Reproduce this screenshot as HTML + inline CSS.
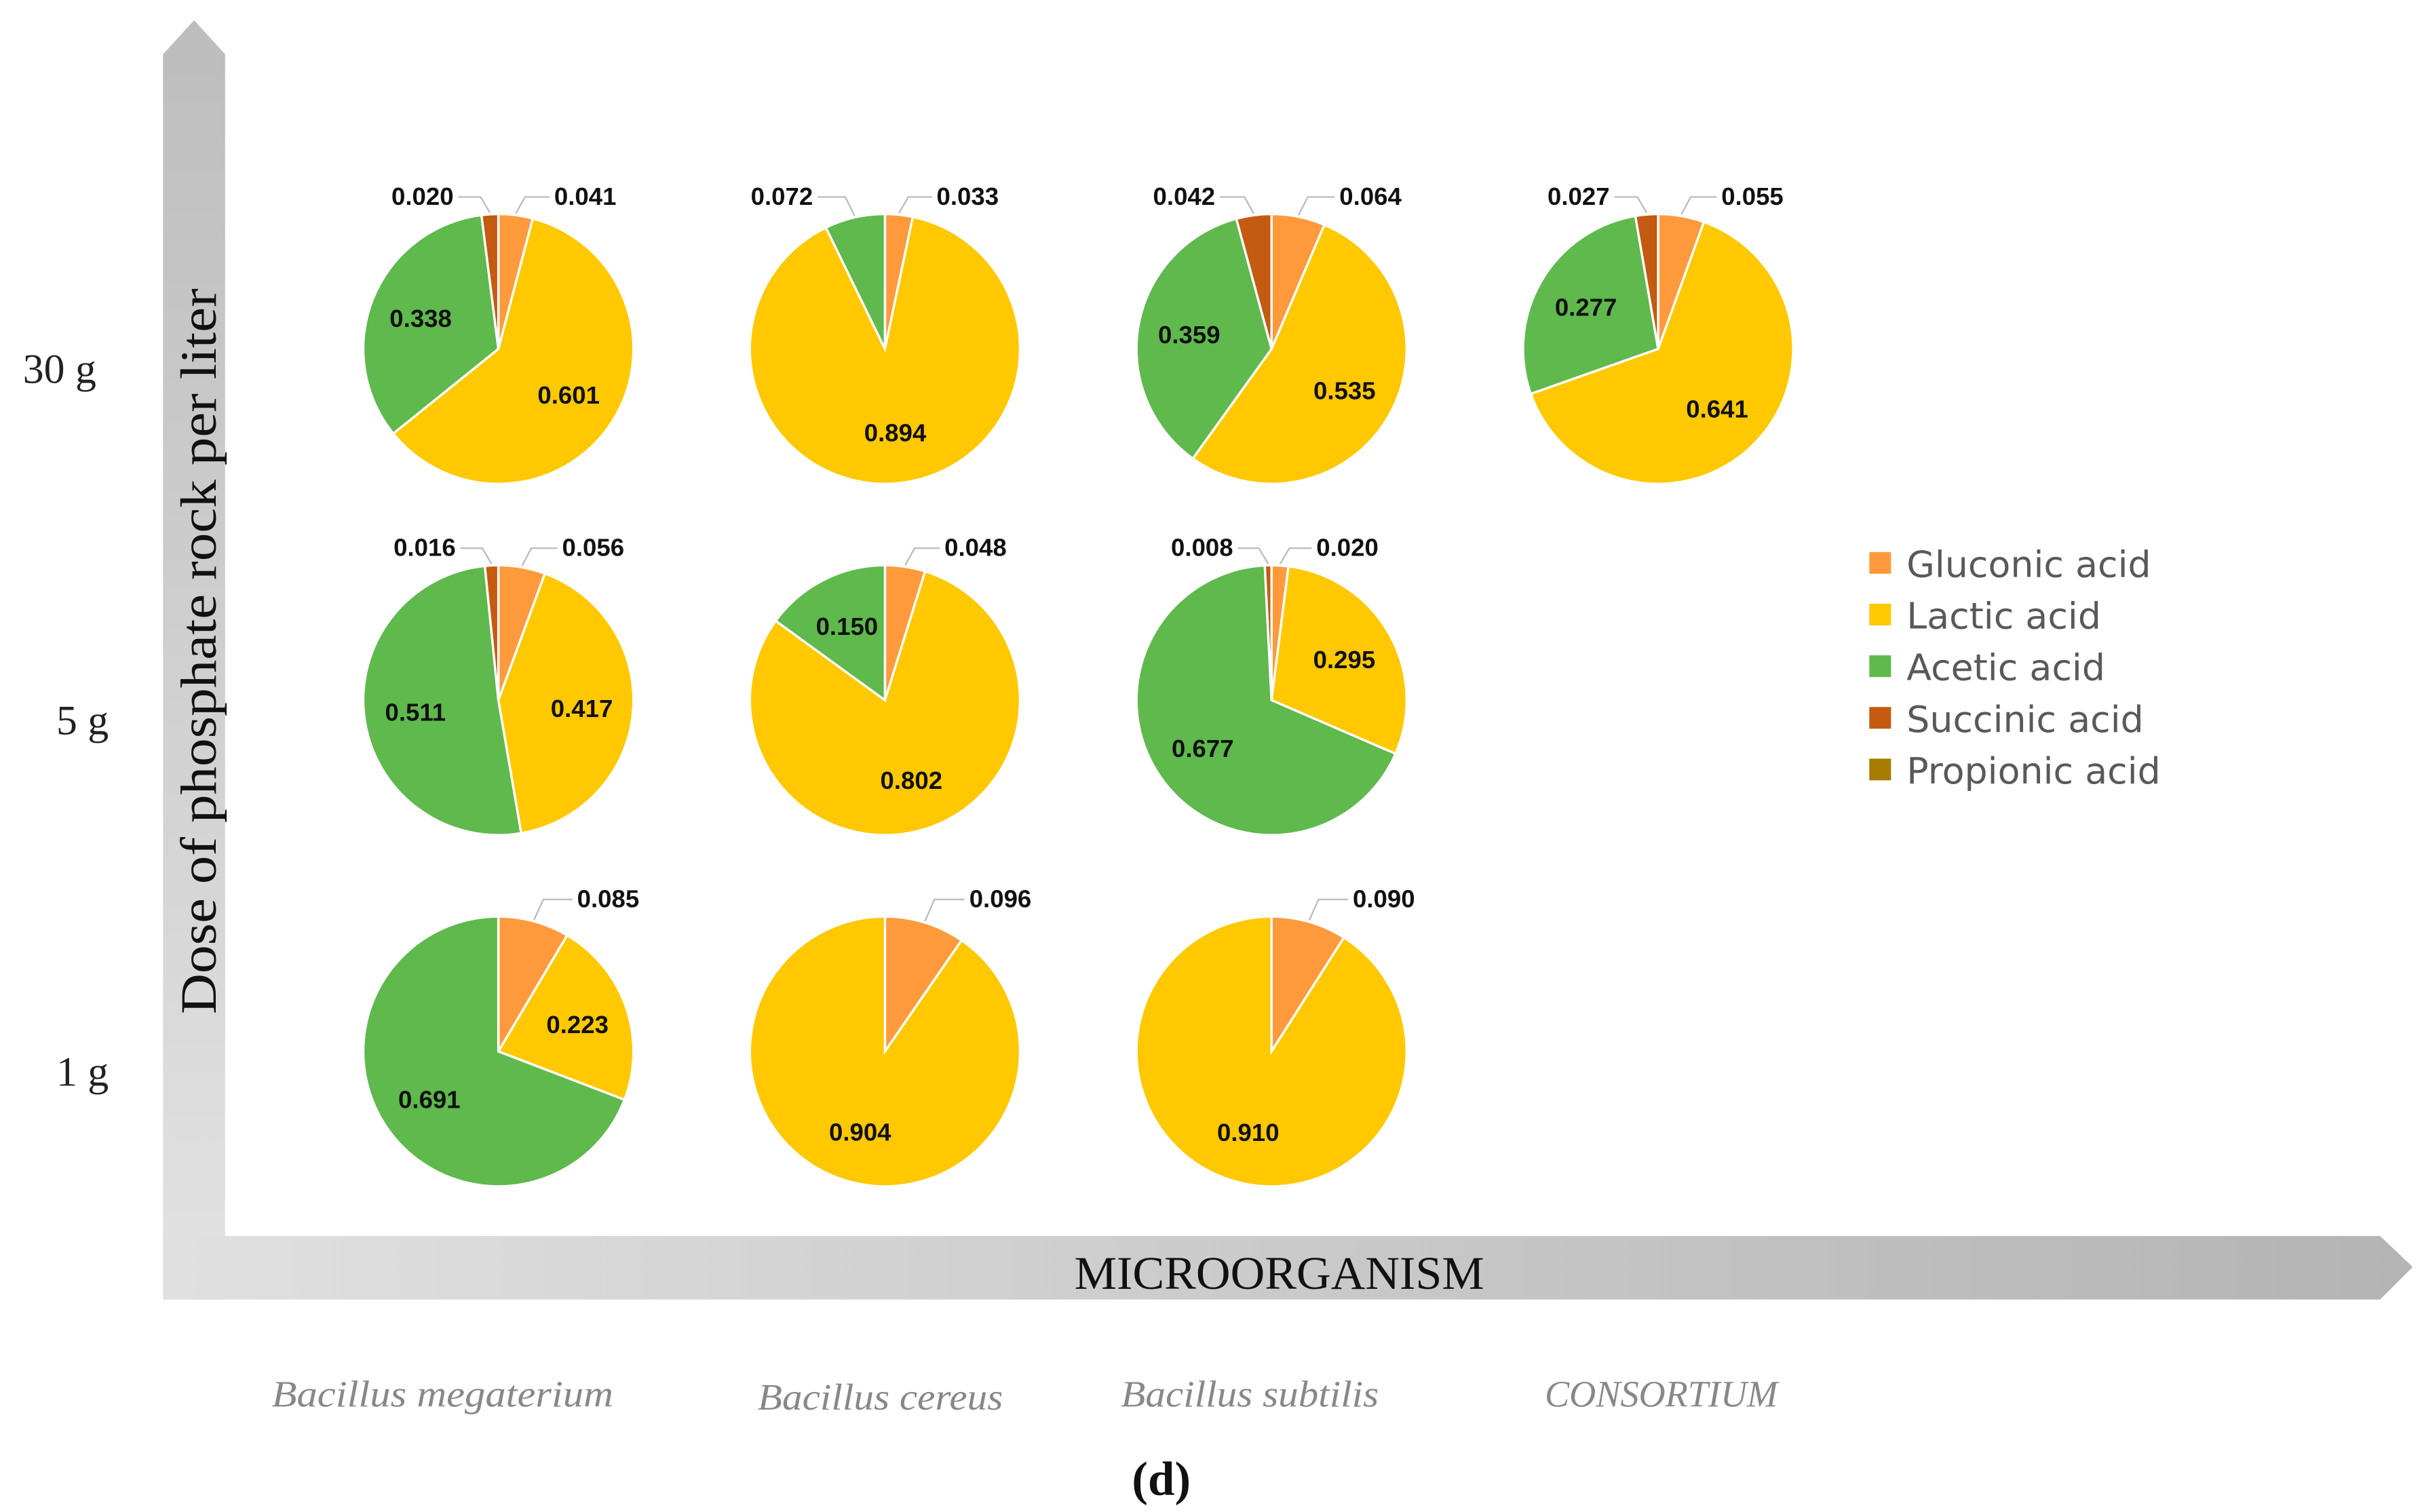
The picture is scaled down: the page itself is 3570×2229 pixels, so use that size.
<!DOCTYPE html>
<html><head><meta charset="utf-8"><style>
html,body{margin:0;padding:0;background:#fff;}
svg{display:block;}
</style></head><body>
<svg id="chart" width="3570" height="2229" viewBox="0 0 1560 975" preserveAspectRatio="none" xmlns="http://www.w3.org/2000/svg">
<defs>
<linearGradient id="gv" x1="0" y1="1" x2="0" y2="0"><stop offset="0" stop-color="#e2e2e2"/><stop offset="1" stop-color="#bdbdbd"/></linearGradient>
<linearGradient id="gh" x1="0" y1="0" x2="1" y2="0"><stop offset="0" stop-color="#e0e0e0"/><stop offset="1" stop-color="#b4b4b4"/></linearGradient>
</defs>
<polygon points="105,35 125,13 145,35 145,838 105,838" fill="url(#gv)"/>
<polygon points="105,797 1533,797 1554,817 1533,838 105,838" fill="url(#gh)"/>
<text transform="translate(139,420) rotate(-90)" text-anchor="middle" font-family="Liberation Serif, serif" font-size="33" fill="#111" textLength="468" lengthAdjust="spacingAndGlyphs">Dose of phosphate rock per liter</text>
<text x="824" y="831" text-anchor="middle" font-family="Liberation Serif, serif" font-size="30" fill="#111" textLength="264" lengthAdjust="spacingAndGlyphs">MICROORGANISM</text>
<g id="yticks" font-family="Liberation Serif, serif" font-size="27" fill="#222" text-anchor="end"></g>
<g id="xcats" font-family="Liberation Serif, serif" font-style="italic" font-size="24" fill="#888" text-anchor="middle"></g>
<g id="pies"></g>
<g id="legend" font-family="DejaVu Sans, Liberation Sans, sans-serif" font-size="23.5" fill="#595959"></g>
<text x="748" y="964" text-anchor="middle" font-family="Liberation Serif, serif" font-weight="bold" font-size="31" fill="#111">(d)</text>
</svg>
<script>
const series = ["Gluconic acid","Lactic acid","Acetic acid","Succinic acid","Propionic acid"];
const colors = ["#FF9A3C","#FFC800","#5FB94D","#C55A11","#A67C00"];
const microbes = ["Bacillus megaterium","Bacillus cereus","Bacillus subtilis","CONSORTIUM"];
const doses = ["30 g","5 g","1 g"];
const gluconic = [[0.041,0.033,0.064,0.055],[0.056,0.048,0.020,null],[0.085,0.096,0.090,null]];
const lactic   = [[0.601,0.894,0.535,0.641],[0.417,0.802,0.295,null],[0.223,0.904,0.910,null]];
const acetic   = [[0.338,0.072,0.359,0.277],[0.511,0.150,0.677,null],[0.691,0,0,null]];
const succinic = [[0.020,0,0.042,0.027],[0.016,0,0.008,null],[0,0,0,null]];
const propionic= [[0,0,0,0],[0,0,0,null],[0,0,0,null]];

const NS="http://www.w3.org/2000/svg";
const colX = i => 321 + i*249;
const rowY = j => 225 + j*226.5;
const R = 87;
function mk(tag, attrs, parent){const e=document.createElementNS(NS,tag);for(const k in attrs)e.setAttribute(k,attrs[k]);parent.appendChild(e);return e;}

const yt=document.getElementById('yticks');
doses.forEach((d,j)=>{const t=mk('text',{x:(j==0?62:70),y:rowY(j)+22},yt);t.textContent=d;

});
const xc=document.getElementById('xcats');
const xcx=[285,567,805,1070], xcy=[907,909,907,907], xcw=[220,158,166,150];
microbes.forEach((m,i)=>{const t=mk('text',{x:xcx[i],y:xcy[i],textLength:xcw[i],lengthAdjust:'spacingAndGlyphs'},xc);t.textContent=m;

});

const pies=document.getElementById('pies');
const all=[gluconic,lactic,acetic,succinic,propionic];
for(let j=0;j<3;j++)for(let i=0;i<4;i++){
  if(gluconic[j][i]===null)continue;
  const cx=colX(i), cy=rowY(j);
  const g=mk('g',{},pies);
  
  
  const vals=all.map(a=>a[j][i]);
  const tot=vals.reduce((a,b)=>a+b,0);
  let acc=0;
  vals.forEach((v,k)=>{
    if(!v)return;
    const a0=acc/tot*2*Math.PI, a1=(acc+v)/tot*2*Math.PI; acc+=v;
    const x0=cx+R*Math.sin(a0), y0=cy-R*Math.cos(a0), x1=cx+R*Math.sin(a1), y1=cy-R*Math.cos(a1);
    const large=(a1-a0)>Math.PI?1:0;
    const p=mk('path',{d:`M${cx},${cy}L${x0},${y0}A${R},${R} 0 ${large} 1 ${x1},${y1}Z`,fill:colors[k],stroke:'#fff','stroke-width':1.5},g);
    
    
    const am=(a0+a1)/2, s=Math.sin(am), c=Math.cos(am);
    const lbl=v.toFixed(3);
    let t;
    if(v>0.1){
      t=mk('text',{x:cx+R*0.62*s,y:cy-R*0.62*c+6,'text-anchor':'middle'},g);
    } else {
      const ex=cx+R*s, ey=cy-R*c;
      let lx,anchor;
      if(s>=0){lx=cx+R*1.25*s+22;anchor='start';}else{lx=cx+R*1.25*s-22;anchor='end';}
      const ly=cy-R-8;
      const ln=mk('polyline',{points:`${ex},${ey-1} ${ex+(s>=0?6:-6)},${ly-3} ${lx+(s>=0?-3:3)},${ly-3}`,fill:'none',stroke:'#bbb','stroke-width':1},g);
      
      
      t=mk('text',{x:lx,y:ly+2,'text-anchor':anchor},g);
    }
    t.setAttribute('font-family','Liberation Sans Narrow, Liberation Sans, sans-serif');
    t.setAttribute('font-weight','bold');t.setAttribute('font-size','16');t.setAttribute('fill','#111');
    t.textContent=lbl;
    
    
  });
}
const lg=document.getElementById('legend');
series.forEach((s,k)=>{const y=363+k*33.3;
  const r=mk('rect',{x:1204,y:y-7,width:14,height:14,fill:colors[k]},lg);
  
  
  const t=mk('text',{x:1228,y:y+9},lg);t.textContent=s;
  
  
});
</script>
</body></html>
